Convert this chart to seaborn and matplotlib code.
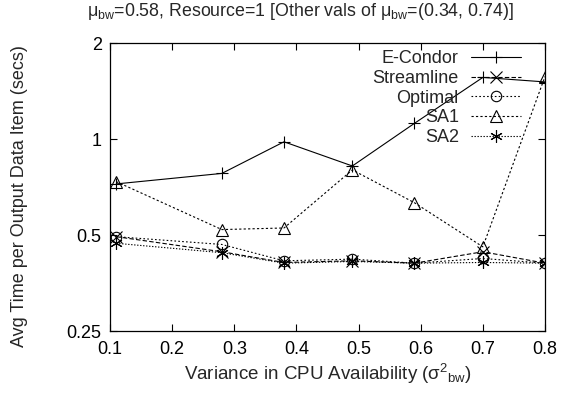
import matplotlib
matplotlib.use("Agg")
import matplotlib.pyplot as plt
import seaborn as sns
import pandas as pd

# ---- data ----
variance = [0.11, 0.28, 0.38, 0.49, 0.59, 0.70, 0.80]
e_condor = [0.723, 0.78, 0.98, 0.823, 1.12, 1.56, 1.51]
streamline = [0.494, 0.443, 0.410, 0.415, 0.408, 0.443, 0.408]
optimal = [0.494, 0.467, 0.415, 0.420, 0.408, 0.422, 0.408]
sa1 = [0.735, 0.520, 0.526, 0.800, 0.631, 0.459, 1.57]
sa2 = [0.471, 0.440, 0.408, 0.413, 0.408, 0.410, 0.408]

series_names = ["E-Condor", "Streamline", "Optimal", "SA1", "SA2"]
series_vals = [e_condor, streamline, optimal, sa1, sa2]
y_ticks = [0.25, 0.5, 1, 2]
y_tick_labels = ["0.25", "0.5", "1", "2"]
x_ticks = [0.1, 0.2, 0.3, 0.4, 0.5, 0.6, 0.7, 0.8]

title_text = "μ$_{\\mathrm{bw}}$=0.58, Resource=1 [Other vals of μ$_{\\mathrm{bw}}$=(0.34, 0.74)]"
x_label = "Variance in CPU Availability (σ$^{2}$$_{\\mathrm{bw}}$)"
y_label = "Avg Time per Output Data Item (secs)"

# ---- styling ----
sns.set_theme(style="ticks")
plt.rcParams["font.family"] = ["Liberation Sans", "DejaVu Sans"]
plt.rcParams["mathtext.fontset"] = "custom"
plt.rcParams["mathtext.rm"] = "Liberation Sans"
plt.rcParams["mathtext.it"] = "Liberation Sans:italic"
plt.rcParams["mathtext.bf"] = "Liberation Sans:bold"

FS = 13

styles = {
    "E-Condor": dict(marker="+", dashes=None, mfc="black", ms=9),
    "Streamline": dict(marker="x", dashes=(4, 2), mfc="black", ms=8),
    "Optimal": dict(marker="o", dashes=(1.5, 2), mfc="none", ms=7.5),
    "SA1": dict(marker="^", dashes=(2, 2), mfc="none", ms=8),
    "SA2": dict(marker=(6, 2, 0), dashes=(1.2, 1.5), mfc="black", ms=9),
}

fig = plt.figure(figsize=(5.69, 3.98), dpi=100)
ax = fig.add_axes([110 / 569, 1 - 331 / 398, 435 / 569, 288 / 398])

rows = []
for name, vals in zip(series_names, series_vals):
    for xv, yv in zip(variance, vals):
        rows.append({"series": name, "x": xv, "y": yv})
df = pd.DataFrame(rows)

handles = []
for name in series_names:
    st = styles[name]
    sub = df[df["series"] == name]
    sns.lineplot(data=sub, x="x", y="y", ax=ax, color="black", lw=0.8,
                 marker=st["marker"], markersize=st["ms"],
                 markerfacecolor=st["mfc"], markeredgecolor="black",
                 markeredgewidth=0.8, label=name, legend=False,
                 errorbar=None, estimator=None, sort=False)
    line = ax.lines[-1]
    if st["dashes"] is not None:
        line.set_dashes(st["dashes"])
    handles.append(line)

ax.set_yscale("log", base=2)
ax.set_ylim(0.25, 2)
ax.set_xlim(0.1, 0.8)
ax.set_yticks(y_ticks)
ax.set_yticklabels(y_tick_labels)
ax.yaxis.set_minor_locator(matplotlib.ticker.NullLocator())
ax.set_xticks(x_ticks)
ax.set_xticklabels([f"{t:.1f}" for t in x_ticks])
ax.tick_params(direction="in", top=True, right=True, length=5, width=0.8,
               labelsize=FS, colors="black")
ax.tick_params(axis="x", pad=7)
ax.tick_params(axis="y", pad=6)
for sp in ax.spines.values():
    sp.set_linewidth(0.9)
    sp.set_color("black")

ax.set_xlabel(x_label, fontsize=13.5, labelpad=3)
ax.set_ylabel(y_label, fontsize=FS)
ax.yaxis.set_label_coords(-0.188, 0.47)

leg = ax.legend(handles=handles, labels=series_names, loc="upper right",
                frameon=False, markerfirst=False, fontsize=FS,
                handlelength=2.8, labelspacing=0.15, borderaxespad=0,
                borderpad=0, bbox_to_anchor=(0.945, 0.975), handletextpad=0.65)
for t in leg.get_texts():
    t.set_ha("right")
leg._legend_box.align = "right"

fig.text(87 / 569, 1 - 12 / 398, title_text, ha="left", va="center", fontsize=12.8)

fig.savefig("out.png", dpi=100)
